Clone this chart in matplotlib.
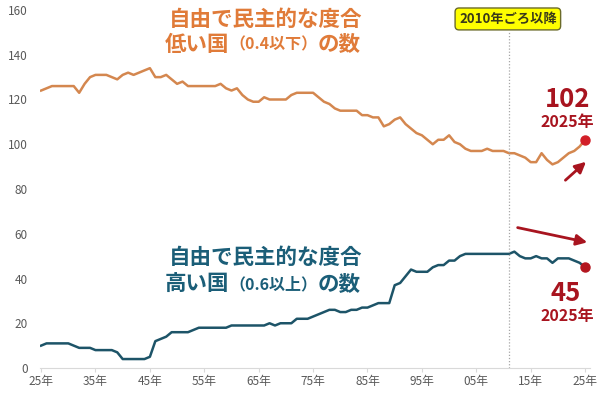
import matplotlib.pyplot as plt
import numpy as np

plt.rcParams['font.family'] = ['Noto Sans CJK JP', 'DejaVu Sans']

years = list(range(1925, 2026))

# 自由で民主的な度合 低い国 (0.4以下)
low = [124, 125, 126, 126, 126, 126, 126, 123, 127, 130,
       131, 131, 131, 130, 129, 131, 132, 131, 132, 133,
       134, 130, 130, 131, 129, 127, 128, 126, 126, 126,
       126, 126, 126, 127, 125, 124, 125, 122, 120, 119,
       119, 121, 120, 120, 120, 120, 122, 123, 123, 123,
       123, 121, 119, 118, 116, 115, 115, 115, 115, 113,
       113, 112, 112, 108, 109, 111, 112, 109, 107, 105,
       104, 102, 100, 102, 102, 104, 101, 100, 98, 97,
       97, 97, 98, 97, 97, 97, 96, 96, 95, 94,
       92, 92, 96, 93, 91, 92, 94, 96, 97, 99,
       102]

# 自由で民主的な度合 高い国 (0.6以上)
high = [10, 11, 11, 11, 11, 11, 10, 9, 9, 9,
        8, 8, 8, 8, 7, 4, 4, 4, 4, 4,
        5, 12, 13, 14, 16, 16, 16, 16, 17, 18,
        18, 18, 18, 18, 18, 19, 19, 19, 19, 19,
        19, 19, 20, 19, 20, 20, 20, 22, 22, 22,
        23, 24, 25, 26, 26, 25, 25, 26, 26, 27,
        27, 28, 29, 29, 29, 37, 38, 41, 44, 43,
        43, 43, 45, 46, 46, 48, 48, 50, 51, 51,
        51, 51, 51, 51, 51, 51, 51, 52, 50, 49,
        49, 50, 49, 49, 47, 49, 49, 49, 48, 47,
        45]

tick_years = [1925, 1935, 1945, 1955, 1965, 1975, 1985, 1995, 2005, 2015, 2025]
tick_labels = ['25年', '35年', '45年', '55年', '65年', '75年', '85年', '95年', '05年', '15年', '25年']
y_ticks = [0, 20, 40, 60, 80, 100, 120, 140, 160]

orange_line = '#D4874F'
orange_text = '#E07B39'
blue_line = '#1D5468'
blue_text = '#1B5E78'
dark_red = '#A8141F'
dot_red = '#D21F28'

fig = plt.figure(figsize=(6, 3.96), dpi=100)
ax = fig.add_axes([40 / 600, 28 / 396, 550 / 600, 358 / 396])

ax.plot(years, low, color=orange_line, lw=1.8, solid_joinstyle='round')
ax.plot(years, high, color=blue_line, lw=1.8, solid_joinstyle='round')
ax.plot(years[-1], low[-1], 'o', color=dot_red, ms=6.5, clip_on=False, zorder=5)
ax.plot(years[-1], high[-1], 'o', color='#B3161F', ms=6.5, clip_on=False, zorder=5)

ax.set_xlim(1924.8, 2025.9)
ax.set_ylim(0, 160)
ax.set_xticks(tick_years)
ax.set_xticklabels(tick_labels)
ax.set_yticks(y_ticks)
for s in ['top', 'right', 'left']:
    ax.spines[s].set_visible(False)
ax.spines['bottom'].set_color('#D9D9D9')
ax.tick_params(axis='x', colors='#595959', labelsize=8.5, length=3, color='#D9D9D9', pad=2)
ax.tick_params(axis='y', colors='#595959', labelsize=8.5, length=0, pad=9)

# 2010年ごろ
ax.axvline(2011, ymin=0, ymax=0.94, color='#A6A6A6', lw=0.9, ls=(0, (1, 1.5)))
ax.text(2010.8, 156, '2010年ごろ以降', ha='center', va='center', fontsize=9.5,
        fontweight='bold', color='#3A3A1A',
        bbox=dict(boxstyle='round,pad=0.3,rounding_size=0.3', fc='#FFFF00', ec='#6B6B2A', lw=1))

# titles
big = 15.5
small = 11.5
ax.text(1966.2, 155.8, '自由で民主的な度合', ha='center', va='center', fontsize=big,
        fontweight='bold', color=orange_text)
t1 = ax.text(1947.8, 144.4, '低い国', ha='left', va='center', fontsize=big,
             fontweight='bold', color=orange_text)
t2 = ax.annotate('（0.4以下）', xy=(1, 0.5), xycoords=t1, ha='left', va='center',
                 fontsize=small, fontweight='bold', color=orange_text)
ax.annotate('の数', xy=(1, 0.5), xycoords=t2, ha='left', va='center', fontsize=big,
            fontweight='bold', color=orange_text)

ax.text(1966.2, 49.6, '自由で民主的な度合', ha='center', va='center', fontsize=big,
        fontweight='bold', color=blue_text)
b1 = ax.text(1947.8, 37.3, '高い国', ha='left', va='center', fontsize=big,
             fontweight='bold', color=blue_text)
b2 = ax.annotate('（0.6以上）', xy=(1, 0.5), xycoords=b1, ha='left', va='center',
                 fontsize=small, fontweight='bold', color=blue_text)
ax.annotate('の数', xy=(1, 0.5), xycoords=b2, ha='left', va='center', fontsize=big,
            fontweight='bold', color=blue_text)

# 2025 annotations
ax.text(2021.7, 119.8, str(low[-1]), ha='center', va='center', fontsize=18.5,
        fontweight='bold', color=dark_red)
ax.text(2021.7, 110, '2025年', ha='center', va='center', fontsize=11.5,
        fontweight='bold', color=dark_red)
ax.annotate('', xy=(2025.55, 93.0), xytext=(2021.0, 83.1),
            arrowprops=dict(arrowstyle='-|>', color=dark_red, lw=2, mutation_scale=16),
            annotation_clip=False)

ax.text(2021.4, 33.5, str(high[-1]), ha='center', va='center', fontsize=18.5,
        fontweight='bold', color=dark_red)
ax.text(2021.7, 23.2, '2025年', ha='center', va='center', fontsize=11.5,
        fontweight='bold', color=dark_red)
ax.annotate('', xy=(2025.9, 55.9), xytext=(2012.1, 63.0),
            arrowprops=dict(arrowstyle='-|>', color=dark_red, lw=2, mutation_scale=16),
            annotation_clip=False)

fig.savefig('out.png', dpi=100)
